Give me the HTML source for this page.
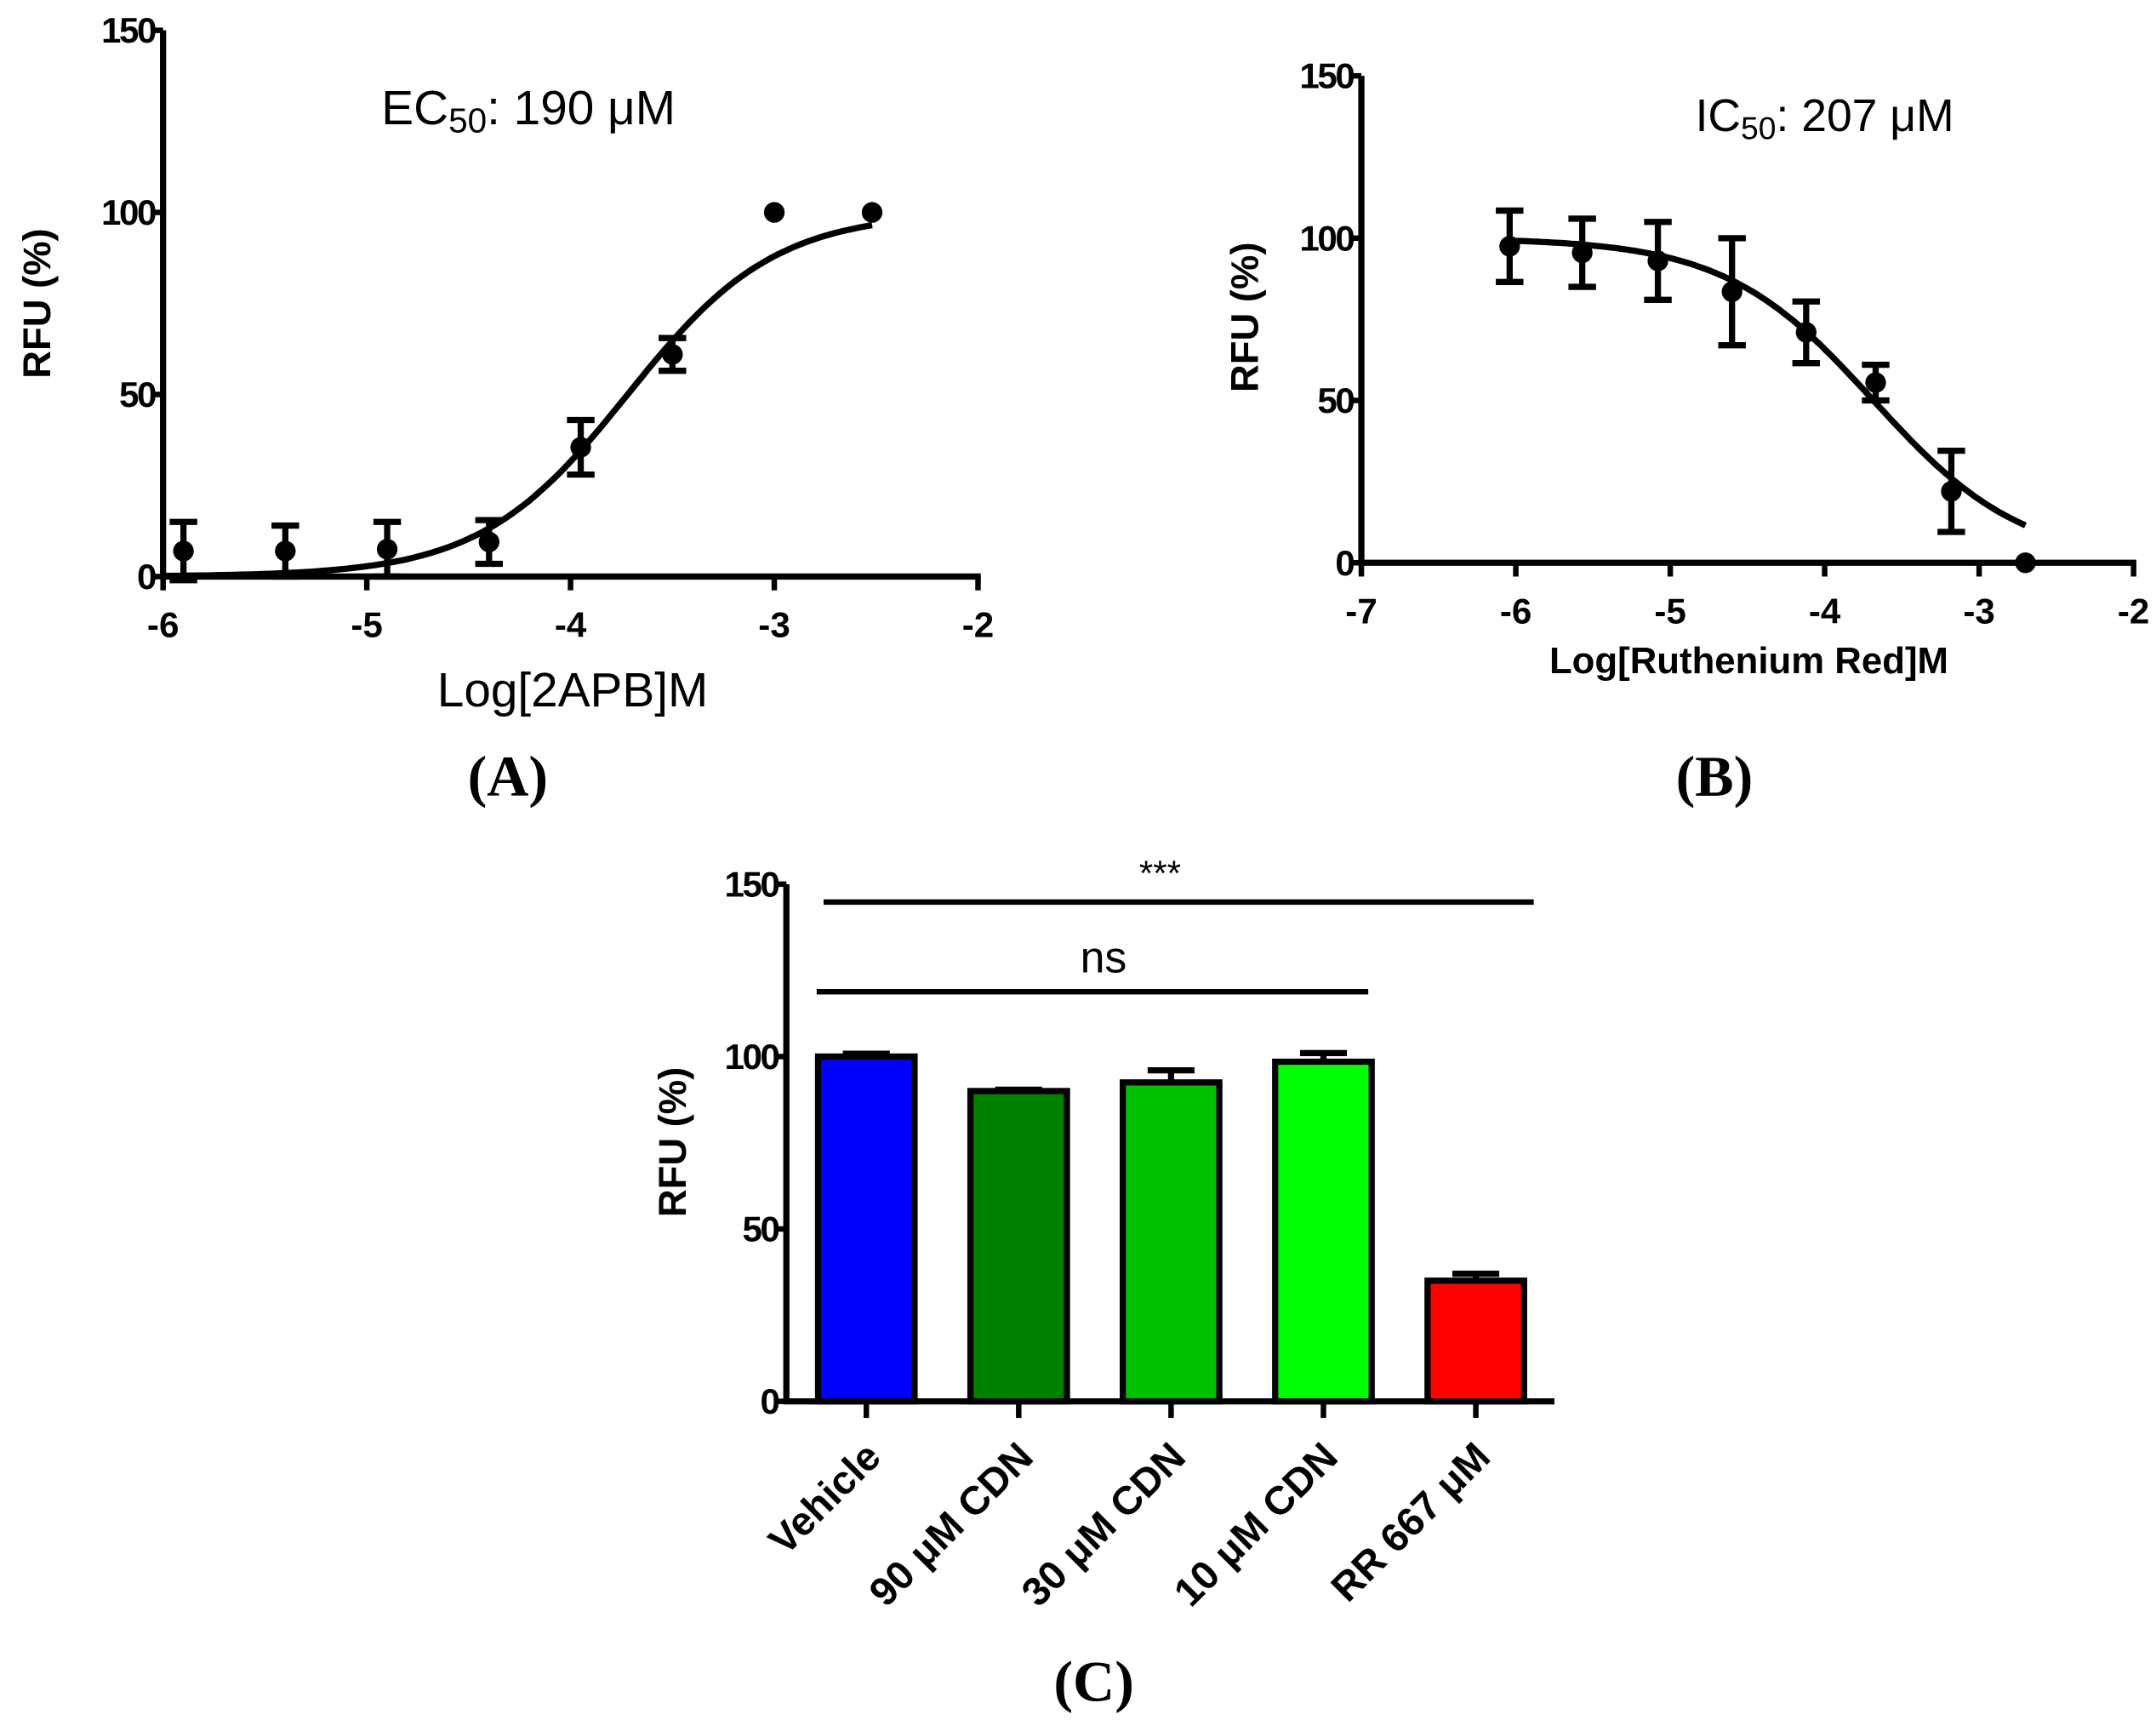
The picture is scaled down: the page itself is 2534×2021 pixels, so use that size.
<!DOCTYPE html>
<html><head><meta charset="utf-8"><style>
html,body{margin:0;padding:0;background:#fff}
svg{display:block}
text{font-family:"Liberation Sans",sans-serif}
.tk{font-weight:bold;font-size:26px}
.ck{font-weight:bold;font-size:29px}
.serif{font-family:"Liberation Serif",serif;font-weight:bold}
</style></head><body>
<svg id="fig" width="2534" height="2021" viewBox="0 0 1563 1247" xmlns="http://www.w3.org/2000/svg">
<g id="pa"></g>
<g id="pb"></g>
<g id="pc"></g>
<text x="383" y="90" font-size="35" text-anchor="middle">EC<tspan font-size="25" dy="6">50</tspan><tspan dy="-6">: 190 μM</tspan></text>
<text x="415" y="512" font-size="35" text-anchor="middle">Log[2APB]M</text>
<text transform="translate(36,220) rotate(-90)" font-size="28" font-weight="bold" text-anchor="middle">RFU (%)</text>
<text class="serif" x="368" y="577" font-size="42" text-anchor="middle">(A)</text>
<text x="1323" y="95" font-size="33" text-anchor="middle">IC<tspan font-size="23" dy="6">50</tspan><tspan dy="-6">: 207 μM</tspan></text>
<text x="1268" y="488" font-size="27" font-weight="bold" text-anchor="middle">Log[Ruthenium Red]M</text>
<text transform="translate(912,230) rotate(-90)" font-size="28" font-weight="bold" text-anchor="middle">RFU (%)</text>
<text class="serif" x="1243" y="577" font-size="42" text-anchor="middle">(B)</text>
<text transform="translate(497,828) rotate(-90)" font-size="28" font-weight="bold" text-anchor="middle">RFU (%)</text>
<text class="serif" x="793" y="1233" font-size="42" text-anchor="middle">(C)</text>
<text x="841" y="642" font-size="26" text-anchor="middle">***</text>
<text x="800" y="705" font-size="32" text-anchor="middle">ns</text>
</svg>
<script>
const aX=[-5.9,-5.4,-4.9,-4.4,-3.95,-3.5,-3.0,-2.52];
const aY=[7,7,7.5,9.5,35.5,61,100,100];
const aErr=[8,7,7.5,6,7.5,4.5,0,0];
const aTicksX=[-6,-5,-4,-3,-2];
const aTicksY=[0,50,100,150];
const aLogEC50=-3.72, aHill=1.2;
const bX=[-6.04,-5.57,-5.08,-4.6,-4.12,-3.67,-3.18,-2.7];
const bY=[97.5,95.5,93,83.5,71,55.5,22,0];
const bErr=[11,10.5,12,16.5,9.5,5.5,12.5,0];
const bTicksX=[-7,-6,-5,-4,-3,-2];
const bTicksY=[0,50,100,150];
const bLogIC50=-3.684, bHill=0.9;
const cCats=["Vehicle","90 μM CDN","30 μM CDN","10 μM CDN","RR 667 μM"];
const cVals=[100,90,92.5,98.5,35];
const cErr=[0.8,0.4,3.5,2.5,2];
const cColors=["#0000ff","#008000","#00c000","#00ff00","#ff0000"];
const cTicksY=[0,50,100,150];
const NS="http://www.w3.org/2000/svg";
function mk(p,t,a){const e=document.createElementNS(NS,t);for(const k in a)e.setAttribute(k,a[k]);p.appendChild(e);return e;}
function lin(d0,d1,r0,r1){return v=>r0+(v-d0)*(r1-r0)/(d1-d0);}

function xyPanel(g,X,Y,E,tx,ty,sx,sy,xAxisEnd,curve,c0,c1,yAxisX){
  let l=mk(g,'line',{x1:yAxisX,y1:sy(150),x2:yAxisX,y2:sy(0),stroke:'#000','stroke-width':4.5});
  
  l=mk(g,'line',{x1:yAxisX-2,y1:sy(0),x2:xAxisEnd,y2:sy(0),stroke:'#000','stroke-width':4.5});
  
  ty.forEach(v=>{
    let t=mk(g,'line',{x1:yAxisX-8,y1:sy(v),x2:yAxisX,y2:sy(v),stroke:'#000','stroke-width':4});
    
    let s=mk(g,'text',{x:yAxisX-6,y:sy(v)+9,'text-anchor':'end',class:'tk','letter-spacing':'-1.5'});s.textContent=v;
    
  });
  tx.forEach(v=>{
    let t=mk(g,'line',{x1:sx(v),y1:sy(0),x2:sx(v),y2:sy(0)+10,stroke:'#000','stroke-width':4});
    
    let s=mk(g,'text',{x:sx(v),y:sy(0)+44,'text-anchor':'middle',class:'tk'});s.textContent=v;
    
  });
  let d='';for(let i=0;i<=120;i++){const x=c0+(c1-c0)*i/120;d+=(i?'L':'M')+sx(x).toFixed(1)+','+sy(curve(x)).toFixed(1);}
  let p=mk(g,'path',{d:d,fill:'none',stroke:'#000','stroke-width':4.5});
  
  X.forEach((x,i)=>{
    const cx=sx(x);
    if(E[i]>0){
      let e=mk(g,'path',{d:`M${cx},${sy(Y[i]-E[i])}V${sy(Y[i]+E[i])}M${cx-10},${sy(Y[i]+E[i])}H${cx+10}M${cx-10},${sy(Y[i]-E[i])}H${cx+10}`,stroke:'#000','stroke-width':4.5,fill:'none'});
      
    }
    let c=mk(g,'circle',{cx:cx,cy:sy(Y[i]),r:7.5,fill:'#000'});
    
  });
}
{const g=document.getElementById('pa');const sx=lin(-6,-2,118,709),sy=lin(0,150,418,22);
 xyPanel(g,aX,aY,aErr,aTicksX,aTicksY,sx,sy,711,x=>100/(1+Math.pow(10,(aLogEC50-x)*aHill)),-6,-2.52,118);}
{const g=document.getElementById('pb');const sx=lin(-7,-2,987,1547),sy=lin(0,150,408,55);
 xyPanel(g,bX,bY,bErr,bTicksX,bTicksY,sx,sy,1549,x=>100/(1+Math.pow(10,(x-bLogIC50)*bHill)),-6,-2.7,987);}
{const g=document.getElementById('pc');const sy=lin(0,150,1016,641);
 const x0=570,x1=1127,cx=i=>628+i*110.5,bw=70;
 cCats.forEach((c,i)=>{
  const x=cx(i);
  if(cErr[i]>0){let e=mk(g,'path',{d:`M${x},${sy(cVals[i])}V${sy(cVals[i]+cErr[i])}M${x-17},${sy(cVals[i]+cErr[i])}H${x+17}`,stroke:'#000','stroke-width':4.5,fill:'none'});
   }
  let r=mk(g,'rect',{x:x-bw/2,y:sy(cVals[i]),width:bw,height:sy(0)-sy(cVals[i]),fill:cColors[i],stroke:'#000','stroke-width':4.5});
  
  let t=mk(g,'line',{x1:x,y1:sy(0),x2:x,y2:sy(0)+12,stroke:'#000','stroke-width':4});
  
  let s=mk(g,'text',{transform:`translate(${x+12},${sy(0)+42}) rotate(-45)`,'text-anchor':'end',class:'ck'});s.textContent=c;
  
 });
 let l=mk(g,'line',{x1:x0,y1:sy(150),x2:x0,y2:sy(0),stroke:'#000','stroke-width':4.5});
 
 l=mk(g,'line',{x1:x0-2,y1:sy(0),x2:x1,y2:sy(0),stroke:'#000','stroke-width':4.5});
 
 cTicksY.forEach(v=>{
  let t=mk(g,'line',{x1:x0-8,y1:sy(v),x2:x0,y2:sy(v),stroke:'#000','stroke-width':4});
  
  let s=mk(g,'text',{x:x0-6,y:sy(v)+9,'text-anchor':'end',class:'tk','letter-spacing':'-1.5'});s.textContent=v;
  
 });
 l=mk(g,'line',{x1:597,y1:654,x2:1112,y2:654,stroke:'#000','stroke-width':4});
 
 l=mk(g,'line',{x1:592,y1:719,x2:992,y2:719,stroke:'#000','stroke-width':4});
 
}
</script>
</body></html>
